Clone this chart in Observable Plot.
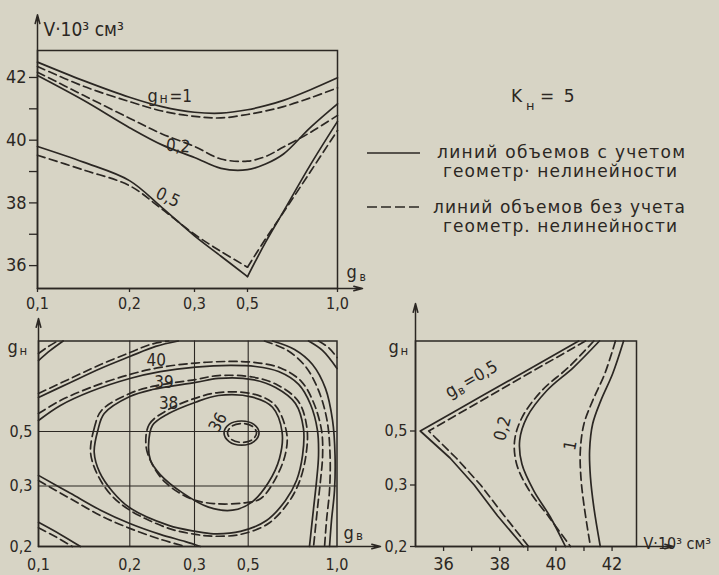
<!DOCTYPE html>
<html><head><meta charset="utf-8">
<script src="https://cdn.jsdelivr.net/npm/d3@7"></script>
<script src="https://cdn.jsdelivr.net/npm/@observablehq/plot@0.6"></script>
<style>
html,body{margin:0;padding:0;background:#d7d4c5;}
#fig{position:relative;width:719px;height:575px;background:#d7d4c5;overflow:hidden;}
#fig svg{position:absolute;left:0;top:0;}
</style></head><body><div id="fig"></div>
<script>
// ---------------- DATA ----------------
// Top-left panel: V·10^3 (cm^3) versus g_в, for g_н = 1, 0.2, 0.5
const gB = [0.1, 0.15, 0.2, 0.25, 0.3, 0.4, 0.5, 0.6, 0.7, 0.85, 1.0];
const V_n1_solid   = [42.49, 41.90, 41.37, 41.07, 40.89, 40.86, 40.97, 41.10, 41.27, 41.61, 41.99];
const V_n1_dashed  = [42.35, 41.72, 41.23, 40.93, 40.76, 40.71, 40.82, 40.93, 41.07, 41.35, 41.67];
const V_n02_solid  = [42.06, 41.27, 40.40, 39.85, 39.45, 39.10, 39.06, 39.24, 39.56, 40.41, 41.16];
const V_n02_dashed = [42.17, 41.43, 40.70, 40.20, 39.80, 39.40, 39.33, 39.48, 39.78, 40.25, 40.79];
const V_n05_solid  = [39.80, 39.30, 38.71, 37.85, 36.95, 36.30, 35.65, 36.74, 37.73, 39.22, 40.60];
const V_n05_dashed = [39.52, 39.05, 38.55, 37.80, 37.00, 36.45, 35.95, 36.85, 37.70, 39.00, 40.31];

// tick values
const gTicks  = [0.1, 0.2, 0.3, 0.5, 1.0];
const gnTicks = [0.2, 0.3, 0.5];
const gnDomain = [0.2, 0.3, 0.5, 1.0];
const vTicks  = [36, 37, 38, 39, 40, 41, 42];
const vTicksBR = [36, 37, 38, 39, 40, 41, 42];

// Bottom-left panel: contour lines of V in (g_в, g_н)
const c42TL_s = [[0.1,0.892],[0.113,0.948],[0.127,1]];
const c42TL_d = [[0.1,0.931],[0.111,0.970],[0.121,1]];
const c42TR_s = [[0.840,1],[0.918,0.948],[1.0,0.848]];
const c42TR_d = [[0.896,1],[0.952,0.964],[1.0,0.909]];
const c41U_s = [[0.1,0.688],[0.135,0.771],[0.168,0.848],[0.2,0.914],[0.240,0.970],[0.275,1.0]];
const c41U_d = [[0.1,0.710],[0.135,0.793],[0.168,0.870],[0.2,0.936],[0.232,0.981],[0.260,1.0]];
const c41R_s = [[0.637,1],[0.761,0.953],[0.862,0.870],[0.935,0.738],[0.975,0.561],[0.989,0.412],[0.986,0.293],[0.969,0.243],[0.958,0.2]];
const c41R_d = [[0.592,1],[0.721,0.948],[0.823,0.859],[0.896,0.727],[0.944,0.561],[0.961,0.412],[0.958,0.293],[0.941,0.243],[0.930,0.2]];
const c41L_s = [[0.1,0.240],[0.124,0.220],[0.146,0.2]];
const c41L_d = [[0.1,0.231],[0.120,0.215],[0.137,0.2]];
const c40_s = [[0.1,0.561],[0.124,0.644],[0.157,0.721],[0.2,0.793],[0.247,0.831],[0.304,0.856],[0.434,0.865],[0.541,0.859],[0.671,0.831],[0.784,0.760],[0.851,0.649],[0.890,0.506],[0.896,0.412],[0.885,0.320],[0.868,0.263],[0.845,0.2]];
const c40_d = [[0.1,0.599],[0.124,0.671],[0.157,0.743],[0.2,0.815],[0.247,0.854],[0.304,0.878],[0.434,0.887],[0.541,0.881],[0.682,0.851],[0.800,0.776],[0.868,0.660],[0.913,0.506],[0.919,0.412],[0.907,0.320],[0.890,0.263],[0.868,0.2]];
const c40L_s = [[0.1,0.339],[0.135,0.288],[0.168,0.260],[0.2,0.238],[0.247,0.220],[0.286,0.208],[0.322,0.2]];
const c40L_d = [[0.1,0.320],[0.135,0.279],[0.168,0.251],[0.2,0.230],[0.247,0.212],[0.286,0.2]];
const c39_s = [[0.161,0.424],[0.165,0.506],[0.172,0.599],[0.2,0.693],[0.235,0.732],[0.304,0.771],[0.389,0.793],[0.524,0.787],[0.654,0.743],[0.766,0.655],[0.811,0.517],[0.806,0.412],[0.772,0.320],[0.710,0.276],[0.603,0.243],[0.471,0.225],[0.371,0.221],[0.304,0.225],[0.260,0.235],[0.2,0.264],[0.181,0.291],[0.167,0.350]];
const c39_d = [[0.157,0.424],[0.161,0.517],[0.169,0.616],[0.2,0.710],[0.235,0.749],[0.304,0.787],[0.389,0.809],[0.524,0.801],[0.665,0.757],[0.783,0.666],[0.831,0.517],[0.825,0.412],[0.789,0.317],[0.727,0.273],[0.614,0.238],[0.471,0.220],[0.371,0.217],[0.304,0.220],[0.260,0.230],[0.2,0.260],[0.179,0.286],[0.164,0.346]];
const c38_s = [[0.229,0.449],[0.235,0.533],[0.260,0.599],[0.304,0.662],[0.389,0.699],[0.524,0.690],[0.637,0.634],[0.691,0.497],[0.676,0.401],[0.614,0.313],[0.519,0.273],[0.442,0.260],[0.352,0.265],[0.281,0.289],[0.247,0.342],[0.232,0.394]];
const c38_d = [[0.225,0.449],[0.230,0.539],[0.257,0.616],[0.298,0.680],[0.389,0.715],[0.524,0.708],[0.648,0.649],[0.716,0.497],[0.710,0.419],[0.648,0.320],[0.569,0.279],[0.482,0.272],[0.371,0.271],[0.294,0.279],[0.255,0.313],[0.234,0.383]];
const c36_s = [[0.561,0.495],[0.532,0.539],[0.475,0.558],[0.429,0.539],[0.410,0.495],[0.429,0.463],[0.475,0.450],[0.532,0.463]];
const c36_d = [[0.547,0.495],[0.523,0.529],[0.477,0.544],[0.439,0.529],[0.423,0.495],[0.439,0.470],[0.477,0.460],[0.523,0.470]];
const contourLabels = [
  {g: 0.241, n: 0.892, t: "40", r: 0},
  {g: 0.253, n: 0.772, t: "39", r: 0},
  {g: 0.260, n: 0.653, t: "38", r: 0},
  {g: 0.388, n: 0.550, t: "36", r: -60}
];

// Bottom-right panel: g_н versus V, pairs [V, g_н], for g_в = 0.5, 0.2, 1
const br05_s = [[40.81,1],[38.56,0.8],[37.42,0.7],[36.30,0.6],[35.17,0.5],[36.23,0.4],[37.09,0.3],[37.92,0.25],[38.85,0.2]];
const br05_d = [[41.05,1],[38.81,0.8],[37.70,0.7],[36.58,0.6],[35.47,0.5],[36.45,0.4],[37.32,0.3],[38.16,0.25],[39.03,0.2]];
const br02_s = [[41.55,1],[40.63,0.854],[39.68,0.725],[38.97,0.577],[38.71,0.465],[38.79,0.378],[39.21,0.291],[39.80,0.248],[40.34,0.2]];
const br02_d = [[41.35,1],[40.45,0.854],[39.50,0.725],[38.80,0.577],[38.53,0.465],[38.60,0.378],[39.05,0.291],[39.75,0.248],[40.52,0.2]];
const br1_s  = [[42.41,1],[42.02,0.818],[41.60,0.669],[41.31,0.54],[41.20,0.428],[41.23,0.329],[41.35,0.264],[41.58,0.2]];
const br1_d  = [[42.12,1],[41.74,0.818],[41.31,0.669],[41.00,0.54],[40.87,0.428],[40.89,0.329],[41.01,0.264],[41.23,0.2]];

// Texts
const volLabel = "V·10³ см³";
const legendTitle = ["K", "н", "= 5"];
const legendSolid = ["линий объемов с учетом", "геометр· нелинейности"];
const legendDashed = ["линий объемов без учета", "геометр. нелинейности"];

// ---------------- STYLE ----------------
const W = 719, H = 575;
const INK = "#2b2723";
const FONT = "'DejaVu Sans Condensed','DejaVu Sans',sans-serif";
const DASH = "8,4.5";
const LW = 1.7;
const STYLE = {background: "transparent", color: INK, fontFamily: FONT, overflow: "visible"};
const fmt = d => d.toFixed(1).replace(".", ",");
const P0 = d => d[0], P1 = d => d[1];

// ---------------- TOP-LEFT ----------------
const tlSeries = [
  {key: "n1s", V: V_n1_solid, dash: false, split: false},
  {key: "n1d", V: V_n1_dashed, dash: true, split: false},
  {key: "n02s", V: V_n02_solid, dash: false, split: false},
  {key: "n02d", V: V_n02_dashed, dash: true, split: false},
  {key: "n05s", V: V_n05_solid, dash: false, split: true},
  {key: "n05d", V: V_n05_dashed, dash: true, split: true}
];
const iMin = gB.indexOf(0.5);
const tlRows = tlSeries.flatMap(s => {
  const all = gB.map((g, i) => ({g, V: s.V[i], i}));
  if (!s.split) return all.map(d => ({...d, key: s.key, dash: s.dash}));
  return [
    ...all.filter(d => d.i <= iMin).map(d => ({...d, key: s.key + "L", dash: s.dash})),
    ...all.filter(d => d.i >= iMin).map(d => ({...d, key: s.key + "R", dash: s.dash}))
  ];
});
const tlArrows = [{x1: 0.1, y1: 35.27, x2: 0.1, y2: 44.0}, {x1: 0.1, y1: 35.27, x2: 1.139, y2: 35.27}];

const tl = Plot.plot({
  width: W, height: H,
  marginTop: 50, marginRight: 382, marginBottom: 287, marginLeft: 37,
  style: STYLE,
  x: {type: "linear", domain: gTicks, range: [37, 129, 194, 247, 337]},
  y: {type: "linear", domain: [35.27, 42.86], range: [288, 50]},
  marks: [
    Plot.frame({stroke: INK, strokeWidth: 1.5}),
    Plot.arrow(tlArrows, {x1: "x1", y1: "y1", x2: "x2", y2: "y2", stroke: INK, strokeWidth: 1.5, headLength: 9, headAngle: 30}),
    Plot.axisY({ticks: vTicks, tickFormat: d => d % 2 === 0 ? String(d) : "", tickSize: 8, tickPadding: 3, label: null, fontSize: 18, strokeWidth: 1.3}),
    Plot.axisX({ticks: gTicks, tickFormat: fmt, tickSize: 4, tickPadding: 5, label: null, fontSize: 16, strokeWidth: 1.3}),
    Plot.line(tlRows.filter(d => !d.dash), {x: "g", y: "V", z: "key", curve: "catmull-rom", stroke: INK, strokeWidth: LW}),
    Plot.line(tlRows.filter(d => d.dash), {x: "g", y: "V", z: "key", curve: "catmull-rom", stroke: INK, strokeWidth: LW, strokeDasharray: DASH}),
    // curve labels
    Plot.text(["g"], {x: 0.2277, y: 41.21, text: d => d, textAnchor: "start", lineAnchor: "bottom", fontSize: 18, fill: INK}),
    Plot.text(["н"], {x: 0.2462, y: 41.19, text: d => d, textAnchor: "start", lineAnchor: "bottom", fontSize: 14, fill: INK}),
    Plot.text(["=1"], {x: 0.2615, y: 41.21, text: d => d, textAnchor: "start", lineAnchor: "bottom", fontSize: 17, fill: INK, letterSpacing: 2}),
    Plot.text(["0,2"], {x: 0.2554, y: 39.67, text: d => d, textAnchor: "start", lineAnchor: "bottom", fontSize: 17, fill: INK, rotate: 5}),
    Plot.text(["0,5"], {x: 0.259, y: 38.17, text: d => d, textAnchor: "middle", lineAnchor: "middle", fontSize: 17, fill: INK, rotate: 25}),
    // axis titles
    Plot.text([volLabel], {frameAnchor: "top-left", text: d => d, dx: 6, dy: -15, textAnchor: "start", lineAnchor: "bottom", fontSize: 19, fill: INK}),
    Plot.text(["g"], {frameAnchor: "bottom-right", text: d => d, dx: 9, dy: -11, textAnchor: "start", lineAnchor: "bottom", fontSize: 18, fill: INK}),
    Plot.text(["в"], {frameAnchor: "bottom-right", text: d => d, dx: 22, dy: -8, textAnchor: "start", lineAnchor: "bottom", fontSize: 12, fill: INK})
  ]
});

// ---------------- BOTTOM-LEFT ----------------
const blContours = [
  {p: c42TL_s}, {p: c42TL_d, dash: true}, {p: c42TR_s}, {p: c42TR_d, dash: true},
  {p: c41U_s}, {p: c41U_d, dash: true}, {p: c41R_s}, {p: c41R_d, dash: true},
  {p: c41L_s}, {p: c41L_d, dash: true},
  {p: c40_s}, {p: c40_d, dash: true}, {p: c40L_s}, {p: c40L_d, dash: true},
  {p: c39_s, closed: true}, {p: c39_d, dash: true, closed: true},
  {p: c38_s, closed: true}, {p: c38_d, dash: true, closed: true},
  {p: c36_s, closed: true}, {p: c36_d, dash: true, closed: true}
];
const blArrows = [{x1: 0.1, y1: 0.2, x2: 0.1, y2: 1.124}, {x1: 0.1, y1: 0.2, x2: 1.245, y2: 0.2}];

const bl = Plot.plot({
  width: W, height: H,
  marginTop: 340.5, marginRight: 382.5, marginBottom: 29, marginLeft: 38,
  style: STYLE,
  x: {type: "linear", domain: gTicks, range: [38, 129.3, 194, 247.7, 336.5]},
  y: {type: "linear", domain: gnDomain, range: [546, 485.5, 431, 340.5]},
  marks: [
    Plot.ruleX(gTicks.slice(1, 4), {y1: 0.2, y2: 1.0, stroke: INK, strokeWidth: 1.1}),
    Plot.ruleY(gnTicks.slice(1), {x1: 0.1, x2: 1.0, stroke: INK, strokeWidth: 1.1}),
    Plot.frame({stroke: INK, strokeWidth: 1.5}),
    Plot.arrow(blArrows, {x1: "x1", y1: "y1", x2: "x2", y2: "y2", stroke: INK, strokeWidth: 1.5, headLength: 9, headAngle: 30}),
    Plot.axisY({ticks: gnTicks, tickFormat: fmt, tickSize: 0, tickPadding: 6, label: null, fontSize: 16}),
    Plot.axisX({ticks: gTicks, tickFormat: fmt, tickSize: 0, tickPadding: 12, label: null, fontSize: 16}),
    ...blContours.map(c => Plot.line(c.p, {x: P0, y: P1, curve: c.closed ? "catmull-rom-closed" : "catmull-rom", stroke: INK, strokeWidth: LW, strokeDasharray: c.dash ? DASH : undefined})),
    Plot.text(contourLabels, {x: "g", y: "n", text: "t", rotate: "r", fontSize: 17, fill: INK}),
    Plot.text(["g"], {frameAnchor: "top-left", text: d => d, dx: -31, dy: 12, textAnchor: "start", lineAnchor: "bottom", fontSize: 18, fill: INK}),
    Plot.text(["н"], {frameAnchor: "top-left", text: d => d, dx: -19, dy: 14, textAnchor: "start", lineAnchor: "bottom", fontSize: 13, fill: INK}),
    Plot.text(["g"], {frameAnchor: "bottom-right", text: d => d, dx: 6.5, dy: -8, textAnchor: "start", lineAnchor: "bottom", fontSize: 18, fill: INK}),
    Plot.text(["в"], {frameAnchor: "bottom-right", text: d => d, dx: 19, dy: -7, textAnchor: "start", lineAnchor: "bottom", fontSize: 13, fill: INK})
  ]
});

// ---------------- BOTTOM-RIGHT ----------------
const brCurves = [
  {p: br05_s, linear: true}, {p: br05_d, dash: true, linear: true},
  {p: br02_s}, {p: br02_d, dash: true},
  {p: br1_s}, {p: br1_d, dash: true}
];
const brArrows = [{x1: 35, y1: 0.2, x2: 35, y2: 1.208}, {x1: 35, y1: 0.2, x2: 44.19, y2: 0.2}];
// "g_в=0,5" label along the upper branch, rotated -30°
const th = -30 * Math.PI / 180, ca = Math.cos(th), sa = Math.sin(th);
const off = (a, b) => ({dx: a * ca - b * sa, dy: a * sa + b * ca});

const br = Plot.plot({
  width: W, height: H,
  marginTop: 340.5, marginRight: 83, marginBottom: 29, marginLeft: 415,
  style: STYLE,
  x: {type: "linear", domain: [35, 42.87]},
  y: {type: "linear", domain: gnDomain, range: [546, 484.5, 430.5, 340.5]},
  marks: [
    Plot.frame({stroke: INK, strokeWidth: 1.5}),
    Plot.arrow(brArrows, {x1: "x1", y1: "y1", x2: "x2", y2: "y2", stroke: INK, strokeWidth: 1.5, headLength: 9, headAngle: 30}),
    Plot.axisY({ticks: gnTicks, tickFormat: fmt, tickSize: 5, tickPadding: 3, label: null, fontSize: 16, strokeWidth: 1.3}),
    Plot.axisX({ticks: vTicksBR, tickFormat: d => d % 2 === 0 ? String(d) : "", tickSize: 5, tickPadding: 6, label: null, fontSize: 18, strokeWidth: 1.3}),
    ...brCurves.map(c => Plot.line(c.p, {x: P0, y: P1, curve: c.linear ? "linear" : "catmull-rom", stroke: INK, strokeWidth: LW, strokeDasharray: c.dash ? DASH : undefined})),
    Plot.text(["g"], {x: 36.21, y: 0.681, text: d => d, ...off(0, 0), rotate: -30, textAnchor: "start", lineAnchor: "bottom", fontSize: 18, fill: INK}),
    Plot.text(["в"], {x: 36.21, y: 0.681, text: d => d, ...off(11, 3), rotate: -30, textAnchor: "start", lineAnchor: "bottom", fontSize: 12, fill: INK}),
    Plot.text(["=0,5"], {x: 36.21, y: 0.681, text: d => d, ...off(20, 0), rotate: -30, textAnchor: "start", lineAnchor: "bottom", fontSize: 17, fill: INK, letterSpacing: 2}),
    Plot.text(["0,2"], {x: 38.10, y: 0.514, text: d => d, rotate: -75, fontSize: 17, fill: INK}),
    Plot.text(["1"], {x: 40.52, y: 0.446, text: d => d, rotate: -80, fontSize: 17, fill: INK}),
    Plot.text(["g"], {frameAnchor: "top-left", text: d => d, dx: -27, dy: 12, textAnchor: "start", lineAnchor: "bottom", fontSize: 18, fill: INK}),
    Plot.text(["н"], {frameAnchor: "top-left", text: d => d, dx: -15, dy: 14, textAnchor: "start", lineAnchor: "bottom", fontSize: 13, fill: INK}),
    Plot.text([volLabel], {frameAnchor: "bottom-right", text: d => d, dx: 7, dy: 2, textAnchor: "start", lineAnchor: "bottom", fontSize: 16, fill: INK})
  ]
});

// ---------------- LEGEND (top-right) ----------------
const leg = d3.create("svg").attr("width", W).attr("height", H).style("overflow", "visible");
const lg = leg.append("g").attr("fill", INK).attr("font-family", "'DejaVu Sans',sans-serif");
lg.append("text").attr("x", 511).attr("y", 102).attr("font-size", 17).text(legendTitle[0]);
lg.append("text").attr("x", 526).attr("y", 110).attr("font-size", 13).text(legendTitle[1]);
lg.append("text").attr("x", 540).attr("y", 102).attr("font-size", 17).attr("letter-spacing", 2).text(legendTitle[2]);
lg.append("line").attr("x1", 367).attr("x2", 420).attr("y1", 153).attr("y2", 153).attr("stroke", INK).attr("stroke-width", LW);
lg.append("line").attr("x1", 367).attr("x2", 420).attr("y1", 207).attr("y2", 207).attr("stroke", INK).attr("stroke-width", LW).attr("stroke-dasharray", "10,4");
const legLines = [
  {t: legendSolid[0], x: 437, y: 158, w: 248},
  {t: legendSolid[1], x: 443, y: 177, w: 234},
  {t: legendDashed[0], x: 433, y: 213, w: 252},
  {t: legendDashed[1], x: 443, y: 232, w: 234}
];
legLines.forEach(l => lg.append("text").attr("x", l.x).attr("y", l.y).attr("font-size", 17)
  .attr("textLength", l.w).attr("lengthAdjust", "spacing").text(l.t));

document.getElementById("fig").append(tl, bl, br, leg.node());
</script></body></html>
